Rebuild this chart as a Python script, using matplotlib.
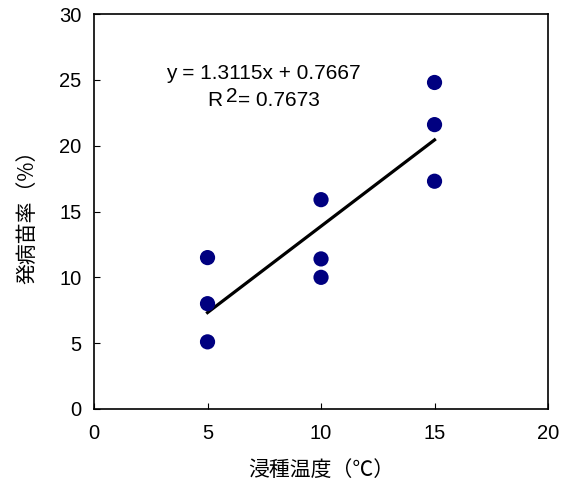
import numpy as np
import matplotlib.pyplot as plt

plt.rcParams['font.family'] = ['Liberation Sans', 'Noto Sans CJK JP']

# 浸種温度と発病苗率
temp = [5, 5, 5, 10, 10, 10, 15, 15, 15]
rate = [11.5, 8.0, 5.1, 15.9, 11.4, 10.0, 24.8, 21.6, 17.3]

# 近似直線 (図中の式)
slope = 1.3115
intercept = 0.7667
r2 = 0.7673

fig = plt.figure(figsize=(5.64, 4.92), dpi=100)
ax = fig.add_axes([0.1667, 0.1687, 0.805, 0.8028])

xs = np.array([min(temp), max(temp)])
ax.plot(xs, slope * xs + intercept, color='black', lw=2.3, zorder=2)
ax.scatter(temp, rate, s=120, color='#000080', zorder=3, edgecolors='none')

ax.set_xlim(0, 20)
ax.set_ylim(0, 30)
ax.set_xticks(range(0, 21, 5))
ax.set_yticks(range(0, 31, 5))
ax.tick_params(axis='both', direction='in', length=4, labelsize=14.5)
ax.tick_params(axis='x', pad=11)
ax.tick_params(axis='y', pad=9)
for s in ax.spines.values():
    s.set_linewidth(1.2)

ax.set_xlabel('浸種温度（℃）', fontsize=15, labelpad=11,
              family=['Noto Sans CJK JP'])
ax.set_ylabel('発病苗率（%）', fontsize=15, labelpad=15,
              family=['Noto Sans CJK JP'])

ax.text(7.47, 25.5, f'y = {slope}x + {intercept}', fontsize=15,
        ha='center', va='center')
ax.text(5.0, 23.4, 'R', fontsize=15, ha='left', va='center')
ax.annotate('2', (5.0, 23.4), xytext=(13, 3), textcoords='offset points',
            fontsize=15, ha='left', va='center')
ax.annotate(f'= {r2}', (5.0, 23.4), xytext=(22, 0), textcoords='offset points',
            fontsize=15, ha='left', va='center')

fig.savefig('out.png', dpi=100)
